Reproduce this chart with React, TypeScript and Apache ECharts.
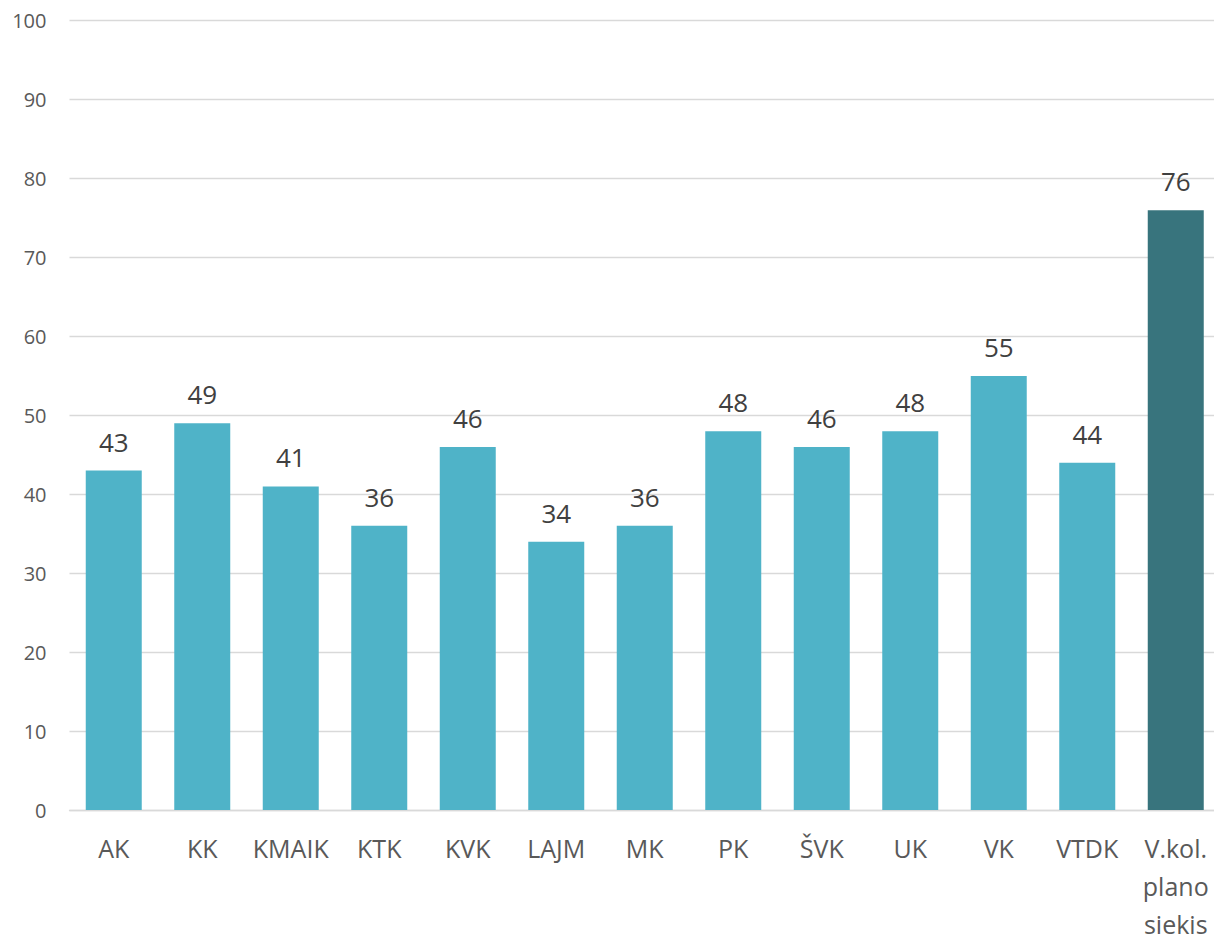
import React, { useEffect, useRef } from "react";
import * as echarts from "echarts";

const categories = ["AK", "KK", "KMAIK", "KTK", "KVK", "LAJM", "MK", "PK", "ŠVK", "UK", "VK", "VTDK", "V.kol.\nplano\nsiekis"];
const values = [43, 49, 41, 36, 46, 34, 36, 48, 46, 48, 55, 44, 76];
const highlightIndex = 12;
const yMin = 0;
const yMax = 100;
const yInterval = 10;

const lightColor = "#4FB3C8";
const darkColor = "#38747D";

export default function App() {
  const ref = useRef<HTMLDivElement>(null);
  useEffect(() => {
    if (!ref.current) return;
    const chart = echarts.init(ref.current, undefined, { renderer: "svg" });
    chart.setOption({
      animation: false,
      backgroundColor: "#ffffff",
      grid: { left: 69.5, right: 0, top: 20.7, bottom: 131, outerBoundsMode: "none", containLabel: false },
      xAxis: {
        type: "category",
        data: categories,
        axisLine: { show: true, lineStyle: { color: "#D9D9D9", width: 1.3 } },
        axisTick: { show: false },
        axisLabel: {
          color: "#595959",
          fontFamily: "Open Sans",
          fontSize: 25,
          lineHeight: 38,
          margin: 19,
          interval: 0,
        },
      },
      yAxis: {
        type: "value",
        min: yMin,
        max: yMax,
        interval: yInterval,
        axisLine: { show: false },
        axisTick: { show: false },
        splitLine: { lineStyle: { color: "#D9D9D9", width: 1.3 } },
        axisLabel: {
          color: "#595959",
          fontFamily: "Open Sans",
          fontSize: 20,
          margin: 23,
        },
      },
      series: [
        {
          type: "bar",
          barWidth: 56,
          data: values.map((v, i) => ({
            value: v,
            itemStyle: { color: i === highlightIndex ? darkColor : lightColor },
          })),
          label: {
            show: true,
            position: "top",
            distance: 16,
            color: "#404040",
            fontFamily: "Open Sans",
            fontSize: 26,
          },
        },
      ],
    });
    return () => chart.dispose();
  }, []);
  return (
    <div
      style={{ position: "absolute", left: 0, top: 0, width: 1214, height: 941, overflow: "hidden" }}
    >
      <div ref={ref} style={{ width: 1220, height: 941 }} />
    </div>
  );
}
